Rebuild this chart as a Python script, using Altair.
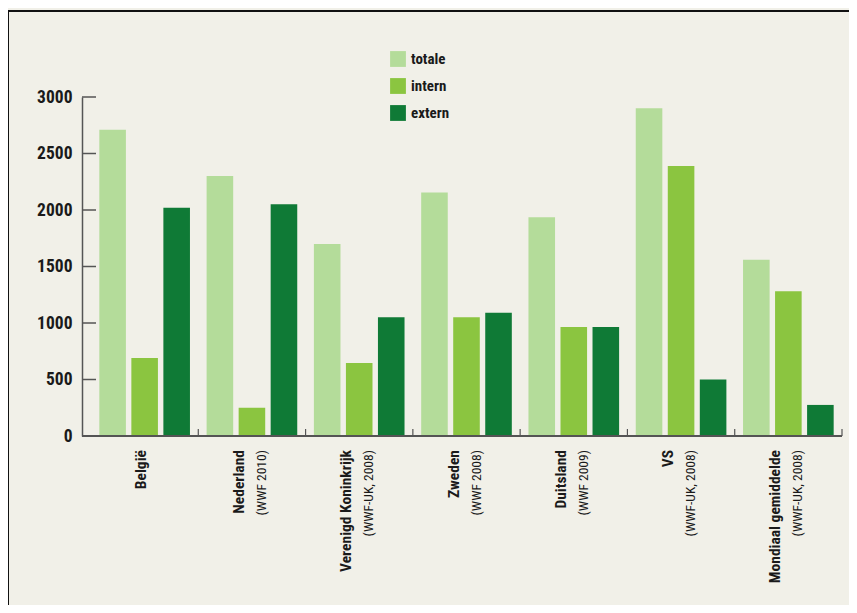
import altair as alt
import pandas as pd

countries = ["België", "Nederland", "Verenigd Koninkrijk", "Zweden", "Duitsland", "VS", "Mondiaal gemiddelde"]
sources = ["", "(WWF 2010)", "(WWF-UK, 2008)", "(WWF 2008)", "(WWF 2009)", "(WWF-UK, 2008)", "(WWF-UK, 2008)"]
series = ["totale", "intern", "extern"]
totale = [2710, 2300, 1700, 2155, 1935, 2900, 1560]
intern = [690, 250, 645, 1050, 965, 2390, 1280]
extern = [2020, 2050, 1050, 1090, 965, 500, 275]
y_ticks = [0, 500, 1000, 1500, 2000, 2500, 3000]
colors = ["#B4DC9A", "#8BC540", "#0F7A36"]

W, H = 751, 339
FONT = "Roboto Condensed, Roboto, sans-serif"
BG = "#F1F0E8"
INK = "#1a1a1a"

rows = []
for i, c in enumerate(countries):
    for s, vals in zip(series, [totale, intern, extern]):
        rows.append({"country": c, "serie": s, "value": vals[i]})
df = pd.DataFrame(rows)
lab = pd.DataFrame({"country": countries, "source": sources})
ticks = pd.DataFrame({"v": y_ticks})

xs = alt.Scale(domain=countries, paddingInner=0, paddingOuter=0)
ys = alt.Scale(domain=[0, 3000], nice=False)

bars = alt.Chart(df).mark_bar().encode(
    x=alt.X("country:N", scale=xs, axis=None, sort=countries),
    xOffset=alt.XOffset("serie:N", sort=series,
                        scale=alt.Scale(domain=series, paddingInner=0.17, paddingOuter=0.26)),
    y=alt.Y("value:Q", scale=ys,
            axis=alt.Axis(values=y_ticks, format="d", title=None, grid=False, ticks=False,
                          offset=9, labelPadding=10, domainColor="#555555",
                          domainWidth=1.5, labelFont=FONT, labelFontSize=17.5,
                          labelFontWeight="bold", labelColor=INK)),
    color=alt.Color("serie:N", sort=series,
                    scale=alt.Scale(domain=series, range=colors),
                    legend=alt.Legend(title=None, orient="none", legendX=299, legendY=-46,
                                      symbolType="square", symbolSize=250,
                                      symbolStrokeWidth=0, symbolOpacity=1,
                                      labelFont=FONT, labelFontSize=15,
                                      labelFontWeight="bold", labelColor=INK,
                                      rowPadding=11, labelOffset=5)),
)

ytick_rules = alt.Chart(ticks).mark_rule(color="#555555", strokeWidth=1.5).encode(
    y=alt.Y("v:Q", scale=ys),
    x=alt.value(-9), x2=alt.value(5),
)

baseline = alt.Chart(ticks).mark_rule(color="#555555", strokeWidth=1.5).encode(
    x=alt.value(-9), x2=alt.value(W), y=alt.value(H),
)

sep = alt.Chart(lab).mark_rule(color="#555555", strokeWidth=1.2).encode(
    x=alt.X("country:N", scale=xs, sort=countries, bandPosition=1),
    y=alt.value(H - 7), y2=alt.value(H),
)

name_two = alt.Chart(lab).transform_filter("datum.source != ''").mark_text(
    angle=270, align="right", baseline="middle", dy=-13,
    font=FONT, fontSize=15.5, fontWeight="bold", color=INK,
).encode(x=alt.X("country:N", scale=xs, sort=countries), y=alt.value(H + 14), text="country:N")

name_one = alt.Chart(lab).transform_filter("datum.source == ''").mark_text(
    angle=270, align="right", baseline="middle", dy=-4,
    font=FONT, fontSize=15.5, fontWeight="bold", color=INK,
).encode(x=alt.X("country:N", scale=xs, sort=countries), y=alt.value(H + 14), text="country:N")

src = alt.Chart(lab).transform_filter("datum.source != ''").mark_text(
    angle=270, align="right", baseline="middle", dy=10,
    font=FONT, fontSize=13.5, color=INK,
).encode(x=alt.X("country:N", scale=xs, sort=countries), y=alt.value(H + 14), text="source:N")

frame_left = alt.Chart(ticks).mark_rule(color="#111111", strokeWidth=2).encode(
    x=alt.value(-83), y=alt.value(-86), y2=alt.value(H + 200),
)
frame_top = alt.Chart(ticks).mark_rule(color="#111111", strokeWidth=2).encode(
    x=alt.value(-84), x2=alt.value(W + 20), y=alt.value(-86),
)

chart = alt.layer(
    bars, ytick_rules, baseline, sep, name_two, name_one, src, frame_left, frame_top
).properties(
    width=W, height=H,
    autosize=alt.AutoSizeParams(type="none"),
    padding={"left": 83, "top": 89, "right": 7, "bottom": 169},
    background=BG,
).configure_view(stroke=None)

chart.save("out.html", embed_options={"renderer": "svg", "actions": False})
